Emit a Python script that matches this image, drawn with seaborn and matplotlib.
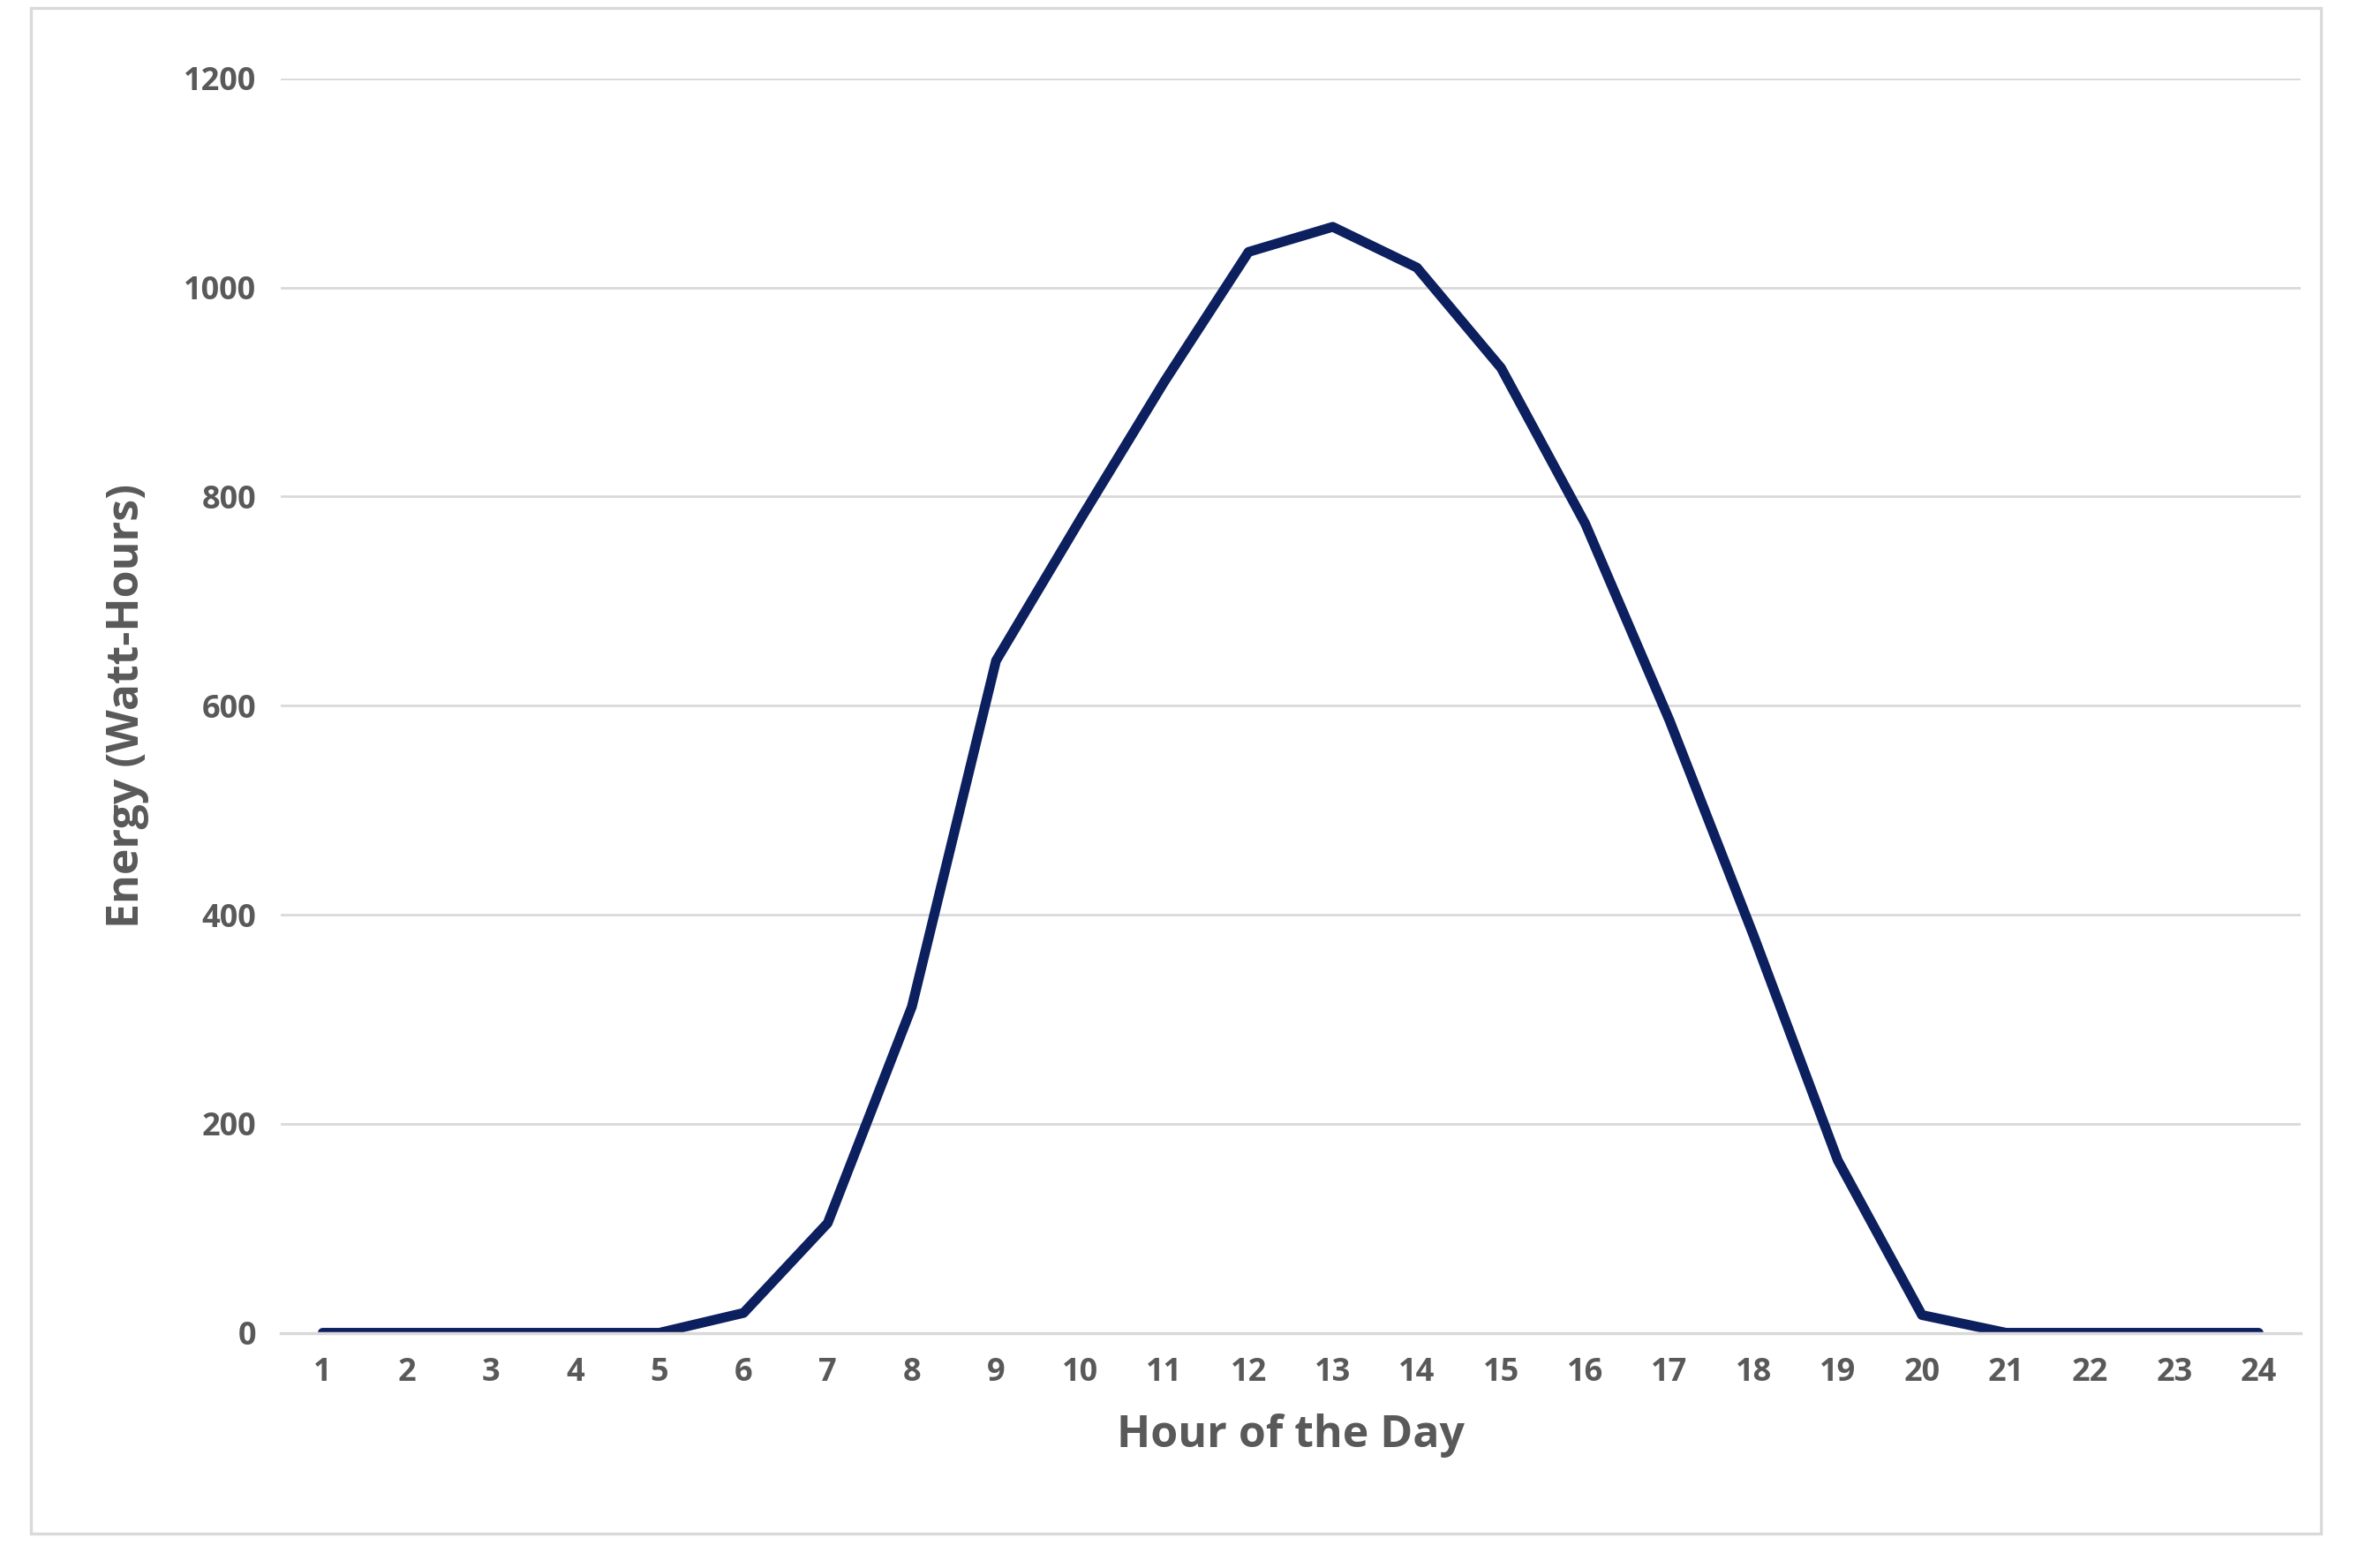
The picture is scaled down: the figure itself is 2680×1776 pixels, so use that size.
import matplotlib
matplotlib.use("Agg")
import matplotlib.pyplot as plt
import seaborn as sns
import pandas as pd
from matplotlib.patches import Rectangle

hours = list(range(1, 25))
energy = [0, 0, 0, 0, 0, 19, 105, 312, 643, 778, 910, 1034, 1058, 1019, 923, 774, 586, 380, 165, 17, 0, 0, 0, 0]
yticks = [0, 200, 400, 600, 800, 1000, 1200]

sns.set_theme(style="white")
plt.rcParams['font.family'] = ['Open Sans', 'DejaVu Sans']
df = pd.DataFrame({"hour": hours, "energy": energy})

fig = plt.figure(figsize=(13.4, 8.88), dpi=200)
ax = fig.add_axes([0.1186, 0.15, 0.8538, 0.80])
fig.patches.append(Rectangle((0.013, 0.022), 0.973 - 0.005, 0.973, transform=fig.transFigure,
                             fill=False, edgecolor="#d9d9d9", linewidth=1.2))
sns.lineplot(data=df, x="hour", y="energy", ax=ax, color="#0c1f5e", linewidth=4)
ax.set_xlim(0.5, 24.5)
ax.set_ylim(0, 1200)
ax.set_xticks(hours)
ax.set_yticks(yticks)
ax.yaxis.grid(True, color="#d9d9d9", linewidth=1)
ax.set_axisbelow(True)
for s in ["top", "right", "left"]:
    ax.spines[s].set_visible(False)
ax.spines["bottom"].set_color("#d9d9d9")
ax.tick_params(axis="both", length=0, labelsize=13, labelcolor="#595959", pad=10)
for lab in ax.get_xticklabels() + ax.get_yticklabels():
    lab.set_fontweight("bold")
ax.set_xlabel("Hour of the Day", fontsize=18, fontweight="bold", color="#595959", labelpad=10)
ax.set_ylabel("Energy (Watt-Hours)", fontsize=18, fontweight="bold", color="#595959", labelpad=14)
fig.savefig("out.png", dpi=200)
